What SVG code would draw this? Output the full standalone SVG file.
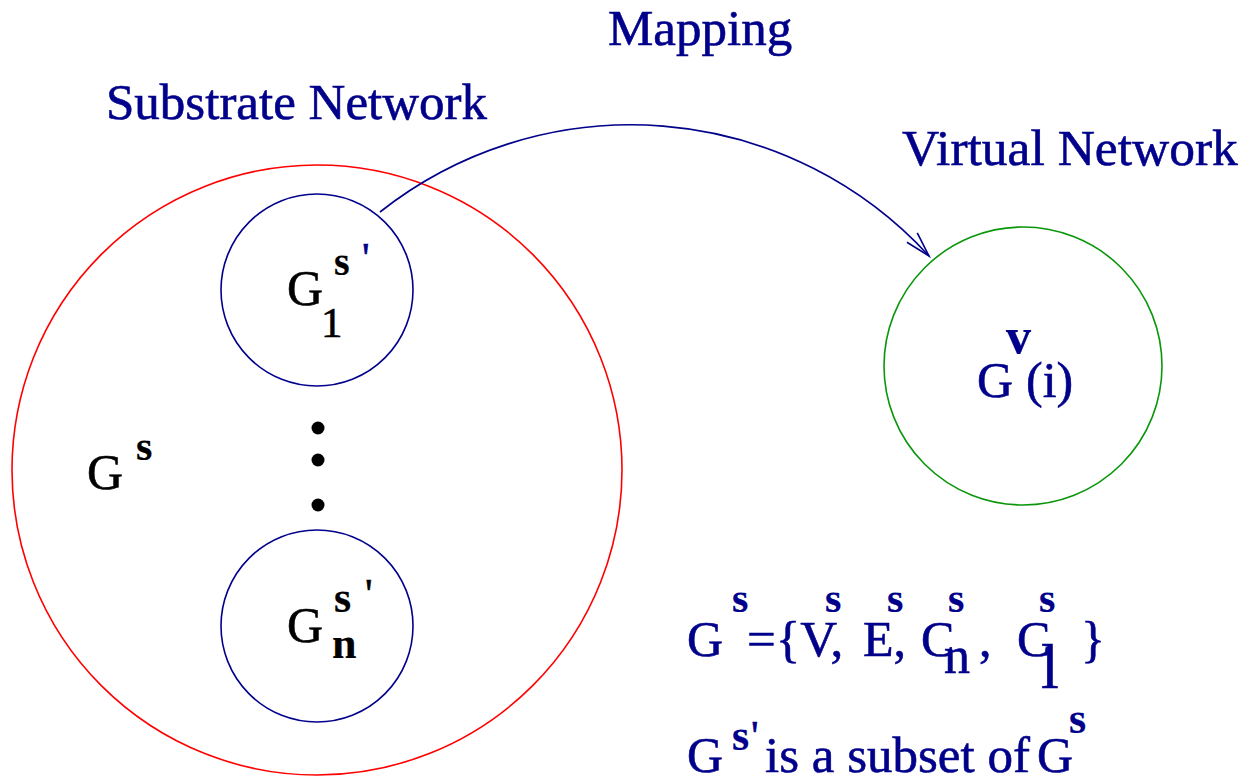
<svg xmlns="http://www.w3.org/2000/svg" width="1243" height="784" viewBox="0 0 1243 784">
<style>
text{font-family:"Liberation Serif","Times New Roman",serif;}
.b{fill:#00008b;stroke:#00008b;stroke-width:0.6;}
.k{fill:#000;stroke:#000;stroke-width:0.6;}
.sup{font-weight:bold;stroke-width:0.2;}
.ring{fill:none;stroke-width:1.6;}
</style>
<defs>
<marker id="arr" markerUnits="userSpaceOnUse" markerWidth="40" markerHeight="40" viewBox="-30 -20 40 40" refX="0" refY="0" orient="auto">
<path d="M-25,-7 L0,0 L-25,7" fill="none" stroke="#00008b" stroke-width="1.6"/>
</marker>
</defs>
<rect width="1243" height="784" fill="#fff"/>

<g id="titles">
<text class="b" x="608" y="45" font-size="51">Mapping</text>
<text class="b" x="106" y="119" font-size="51">Substrate Network</text>
<text class="b" x="902" y="165" font-size="51.5">Virtual Network</text>
</g>

<g id="substrate">
<circle class="ring" cx="317" cy="470" r="305" stroke="#ff0000"/>
<text class="k" x="87" y="489" font-size="50">G</text>
<text class="k sup" x="136" y="460" font-size="42">s</text>
</g>

<g id="node-g1">
<circle class="ring" cx="317" cy="290" r="96" stroke="#00008b"/>
<text class="k" x="287" y="305" font-size="50">G</text>
<text class="k sup" x="334" y="275" font-size="40">s</text>
<text class="b" x="362" y="272" font-size="42">'</text>
<text class="k" x="321" y="337" font-size="43">1</text>
</g>

<g id="dots">
<circle cx="318" cy="428" r="6.5" fill="#000"/>
<circle cx="318" cy="460" r="6.5" fill="#000"/>
<circle cx="318" cy="505" r="6.5" fill="#000"/>
</g>

<g id="node-gn">
<circle class="ring" cx="317" cy="626" r="96" stroke="#00008b"/>
<text class="k" x="287" y="642" font-size="50">G</text>
<text class="k sup" x="334" y="612" font-size="44">s</text>
<text class="k" x="365" y="608" font-size="42">'</text>
<text class="k sup" x="332" y="658" font-size="44">n</text>
</g>

<g id="virtual">
<circle class="ring" cx="1023" cy="366" r="139" stroke="#0a960a"/>
<text class="b" x="977" y="397" font-size="50">G</text>
<text class="b sup" x="1006" y="353" font-size="50">v</text>
<text class="b" x="1026" y="397" font-size="50">(i)</text>
</g>

<g id="connectors">
<path d="M380,212 A404.5,404.5 0 0 1 929,256" fill="none" stroke="#00008b" stroke-width="1.6" marker-end="url(#arr)"/>
</g>

<g id="formula">
<text class="b" x="687" y="656" font-size="50">G</text>
<text class="b sup" x="732" y="612" font-size="42">s</text>
<text class="b" x="747" y="656" font-size="51">={V,</text>
<text class="b sup" x="825" y="612" font-size="42">s</text>
<text class="b" x="863" y="656" font-size="50">E,</text>
<text class="b sup" x="887" y="612" font-size="42">s</text>
<text class="b" x="921" y="656" font-size="50">C</text>
<text class="b" x="944" y="673" font-size="52">n</text>
<text class="b" x="979" y="656" font-size="50">,</text>
<text class="b sup" x="948" y="612" font-size="42">s</text>
<text class="b" x="1017" y="656" font-size="50">C</text>
<text class="b" x="1041" y="688" font-size="64">l</text>
<text class="b sup" x="1039" y="612" font-size="42">s</text>
<text class="b" x="1081" y="656" font-size="50">}</text>

<text class="b" x="687" y="772" font-size="50">G</text>
<text class="b sup" x="732" y="750" font-size="44">s</text>
<text class="b" x="751" y="750" font-size="42">'</text>
<text class="b" x="765" y="772" font-size="51">is a subset of</text>
<text class="b" x="1037" y="772" font-size="50">G</text>
<text class="b sup" x="1069" y="733" font-size="44">s</text>
</g>
</svg>
